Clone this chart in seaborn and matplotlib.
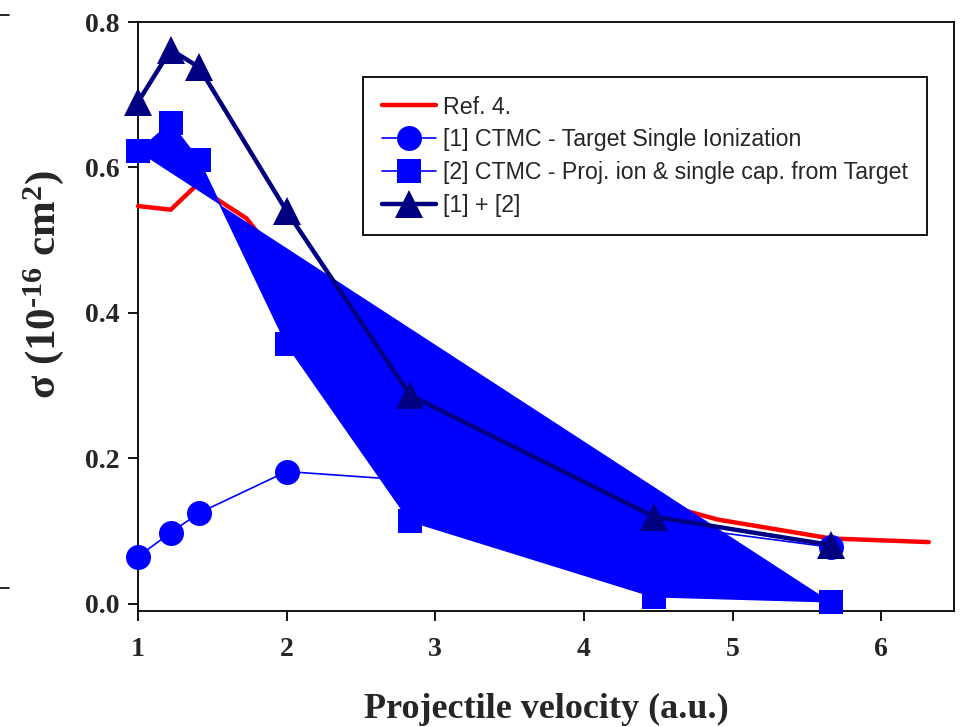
import matplotlib
matplotlib.use("Agg")
import matplotlib.pyplot as plt
import seaborn as sns
from matplotlib.lines import Line2D

# Projectile velocities (a.u.) for the CTMC runs
velocity = [1.0, 1.22, 1.41, 2.0, 2.83, 4.47, 5.66]

# [1] CTMC - target single ionization
ctmc_ion = [0.065, 0.098, 0.125, 0.182, 0.17, 0.11, 0.078]
# [2] CTMC - projectile ionization & single capture from target
ctmc_cap = [0.622, 0.661, 0.61, 0.357, 0.114, 0.01, 0.003]
# [1] + [2]
ctmc_sum = [0.69, 0.762, 0.738, 0.54, 0.287, 0.12, 0.081]

# Ref. 4 curve
ref_v = [1.0, 1.22, 1.39, 1.73, 2.0, 2.45, 2.83, 3.46, 4.0, 4.47, 4.9, 5.66, 6.32]
ref_sigma = [0.547, 0.542, 0.575, 0.53, 0.46, 0.36, 0.29, 0.21, 0.17, 0.14, 0.116, 0.09, 0.085]

x_ticks = [1, 2, 3, 4, 5, 6]
y_ticks = [0.0, 0.2, 0.4, 0.6, 0.8]

sns.set_style("ticks")
plt.rcParams["font.family"] = ["Liberation Serif", "DejaVu Serif"]
plt.rcParams["mathtext.fontset"] = "custom"
plt.rcParams["mathtext.rm"] = "Liberation Serif:bold"
plt.rcParams["mathtext.bf"] = "Liberation Serif:bold"
plt.rcParams["mathtext.it"] = "Liberation Serif:bold"
plt.rcParams["mathtext.default"] = "bf"

fig = plt.figure(figsize=(9.61, 7.27), dpi=100)
ax = fig.add_axes([0.1436, 0.1596, 0.8491, 0.8101])

sns.lineplot(x=ref_v, y=ref_sigma, ax=ax, color="#ff0000", linewidth=3.2,
             sort=False, label="Ref. 4.", zorder=2, clip_on=False)
sns.lineplot(x=velocity, y=ctmc_ion, ax=ax, color="#0000ff", linewidth=1.2,
             marker="o", markersize=18, markeredgewidth=0, sort=False,
             label="[1] CTMC - Target Single Ionization", zorder=3,
             clip_on=False)
sns.lineplot(x=velocity, y=ctmc_cap, ax=ax, color="#0000ff", linewidth=1.2,
             marker="s", markersize=17, markeredgewidth=0, sort=False,
             label="[2] CTMC - Proj. ion & single cap. from Target", zorder=4,
             clip_on=False)
# the filled region closed on the [2] series
ax.fill(velocity, ctmc_cap, color="#0000ff", linewidth=0, zorder=4)
sns.lineplot(x=velocity, y=ctmc_sum, ax=ax, color="#000080", linewidth=3.2,
             marker="^", markersize=20, markeredgewidth=0, sort=False,
             label="[1] + [2]", zorder=5, clip_on=False)

ax.set_xlim(1.0, 6.49)
ax.set_ylim(-0.0097, 0.8)
ax.set_xticks(x_ticks)
ax.set_yticks(y_ticks)
ax.set_yticklabels([f"{t:.1f}" for t in y_ticks])

for s in ax.spines.values():
    s.set_visible(True)
    s.set_linewidth(1.3)
    s.set_color("black")
    s.set_zorder(1)
ax.tick_params(direction="out", length=7, width=1.3, color="black",
               labelsize=20, pad=6)
for lab in ax.get_xticklabels() + ax.get_yticklabels():
    lab.set_fontweight("bold")
ax.tick_params(axis="x", pad=12)

ax.set_xlabel("Projectile velocity (a.u.)", fontsize=26, fontweight="bold",
              labelpad=22)
ax.set_ylabel(r"σ (10$^{\text{-16}}$ cm$^{2}$)", fontsize=31, fontweight="bold")
ax.yaxis.set_label_coords(-0.088, 0.555)

leg = ax.legend(loc="upper left", bbox_to_anchor=(0.2757, 0.9066),
                borderaxespad=0, frameon=True, fancybox=False,
                prop={"family": "Liberation Sans", "size": 16.7},
                handlelength=2.35, handletextpad=0.3, labelspacing=0.42,
                borderpad=0.8, markerscale=1.0, framealpha=1)
leg.get_frame().set_edgecolor("black")
leg.get_frame().set_linewidth(1.3)

# stray tick marks at the left edge of the original figure
fig.add_artist(Line2D([0.0, 0.009], [1 - 15 / 727, 1 - 15 / 727],
                      color="black", linewidth=1.2))
fig.add_artist(Line2D([0.0, 0.009], [1 - 588 / 727, 1 - 588 / 727],
                      color="black", linewidth=1.2))

fig.savefig("out.png", dpi=100)
